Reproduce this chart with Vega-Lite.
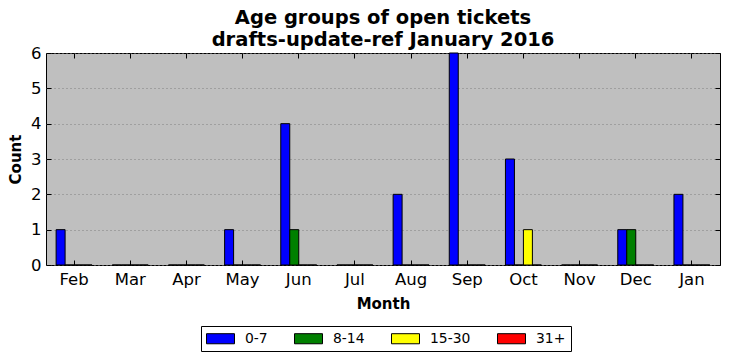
{
  "$schema": "https://vega.github.io/schema/vega-lite/v6.json",
  "width": 674,
  "height": 212,
  "autosize": "none",
  "padding": {"left": 46, "top": 53, "right": 11, "bottom": 96},
  "background": "white",
  "config": {
    "font": "DejaVu Sans",
    "view": {"fill": "#bfbfbf", "stroke": "black", "strokeWidth": 1}
  },
  "title": {
    "text": ["Age groups of open tickets", "drafts-update-ref January 2016"],
    "fontSize": 19.5,
    "fontWeight": "bold",
    "font": "DejaVu Sans",
    "color": "black",
    "lineHeight": 22,
    "offset": -5,
    "anchor": "middle"
  },
  "data": {
    "values": [
      {"month": "Feb", "group": "0-7", "count": 1}, {"month": "Feb", "group": "8-14", "count": 0}, {"month": "Feb", "group": "15-30", "count": 0}, {"month": "Feb", "group": "31+", "count": 0},
      {"month": "Mar", "group": "0-7", "count": 0}, {"month": "Mar", "group": "8-14", "count": 0}, {"month": "Mar", "group": "15-30", "count": 0}, {"month": "Mar", "group": "31+", "count": 0},
      {"month": "Apr", "group": "0-7", "count": 0}, {"month": "Apr", "group": "8-14", "count": 0}, {"month": "Apr", "group": "15-30", "count": 0}, {"month": "Apr", "group": "31+", "count": 0},
      {"month": "May", "group": "0-7", "count": 1}, {"month": "May", "group": "8-14", "count": 0}, {"month": "May", "group": "15-30", "count": 0}, {"month": "May", "group": "31+", "count": 0},
      {"month": "Jun", "group": "0-7", "count": 4}, {"month": "Jun", "group": "8-14", "count": 1}, {"month": "Jun", "group": "15-30", "count": 0}, {"month": "Jun", "group": "31+", "count": 0},
      {"month": "Jul", "group": "0-7", "count": 0}, {"month": "Jul", "group": "8-14", "count": 0}, {"month": "Jul", "group": "15-30", "count": 0}, {"month": "Jul", "group": "31+", "count": 0},
      {"month": "Aug", "group": "0-7", "count": 2}, {"month": "Aug", "group": "8-14", "count": 0}, {"month": "Aug", "group": "15-30", "count": 0}, {"month": "Aug", "group": "31+", "count": 0},
      {"month": "Sep", "group": "0-7", "count": 6}, {"month": "Sep", "group": "8-14", "count": 0}, {"month": "Sep", "group": "15-30", "count": 0}, {"month": "Sep", "group": "31+", "count": 0},
      {"month": "Oct", "group": "0-7", "count": 3}, {"month": "Oct", "group": "8-14", "count": 0}, {"month": "Oct", "group": "15-30", "count": 1}, {"month": "Oct", "group": "31+", "count": 0},
      {"month": "Nov", "group": "0-7", "count": 0}, {"month": "Nov", "group": "8-14", "count": 0}, {"month": "Nov", "group": "15-30", "count": 0}, {"month": "Nov", "group": "31+", "count": 0},
      {"month": "Dec", "group": "0-7", "count": 1}, {"month": "Dec", "group": "8-14", "count": 1}, {"month": "Dec", "group": "15-30", "count": 0}, {"month": "Dec", "group": "31+", "count": 0},
      {"month": "Jan", "group": "0-7", "count": 2}, {"month": "Jan", "group": "8-14", "count": 0}, {"month": "Jan", "group": "15-30", "count": 0}, {"month": "Jan", "group": "31+", "count": 0}
    ]
  },
  "layer": [
    {
      "mark": {"type": "bar", "stroke": "black", "strokeWidth": 1},
      "encoding": {
        "x": {
          "field": "month", "type": "nominal",
          "sort": ["Feb","Mar","Apr","May","Jun","Jul","Aug","Sep","Oct","Nov","Dec","Jan"],
          "scale": {"paddingInner": 0.36, "paddingOuter": 0.18},
          "axis": {
            "title": "Month", "titleFontSize": 15, "titleFontWeight": "bold", "titleColor": "black", "titlePadding": 9,
            "labelAngle": 0, "labelFontSize": 16.5, "labelColor": "black", "labelPadding": 11,
            "tickSize": -5, "tickColor": "black", "domain": false, "grid": false
          }
        },
        "xOffset": {
          "field": "group", "type": "nominal",
          "sort": ["0-7","8-14","15-30","31+"],
          "scale": {"paddingInner": 0, "paddingOuter": 0}
        },
        "y": {
          "field": "count", "type": "quantitative",
          "scale": {"domain": [0, 6], "nice": false},
          "axis": {
            "title": "Count", "titleFontSize": 15, "titleFontWeight": "bold", "titleColor": "black", "titlePadding": 7,
            "labelFontSize": 16.5, "labelColor": "black", "labelPadding": 10,
            "values": [0,1,2,3,4,5,6],
            "tickSize": -5, "tickColor": "black", "domain": false,
            "grid": true, "gridColor": "#7f7f7f", "gridDash": [1, 3], "gridWidth": 1
          }
        },
        "color": {
          "field": "group", "type": "nominal",
          "sort": ["0-7","8-14","15-30","31+"],
          "scale": {"domain": ["0-7","8-14","15-30","31+"], "range": ["#0000ff", "#008000", "#ffff00", "#ff0000"]},
          "legend": {
            "title": null, "orient": "none", "legendX": 155, "legendY": 273,
            "direction": "horizontal", "columns": 4,
            "strokeColor": "black", "padding": 5, "fillColor": "white",
            "symbolType": "M-2,-0.72H2V0.72H-2Z", "symbolSize": 196,
            "symbolStrokeColor": "black", "symbolStrokeWidth": 1, "symbolOpacity": 1,
            "symbolOffset": 7,
            "labelFontSize": 13.9, "labelColor": "black", "labelOffset": 17,
            "columnPadding": 24
          }
        }
      }
    },
    {
      "mark": {"type": "bar", "opacity": 0},
      "encoding": {
        "x": {
          "field": "month", "type": "nominal",
          "sort": ["Feb","Mar","Apr","May","Jun","Jul","Aug","Sep","Oct","Nov","Dec","Jan"],
          "axis": {"orient": "top", "title": null, "labels": false, "tickSize": -5, "tickColor": "black", "domain": false, "grid": false}
        },
        "y": {
          "field": "count", "type": "quantitative",
          "axis": {"orient": "right", "title": null, "labels": false, "values": [0,1,2,3,4,5,6], "tickSize": -5, "tickColor": "black", "domain": false, "grid": false}
        }
      }
    }
  ],
  "resolve": {"axis": {"x": "independent", "y": "independent"}}
}
